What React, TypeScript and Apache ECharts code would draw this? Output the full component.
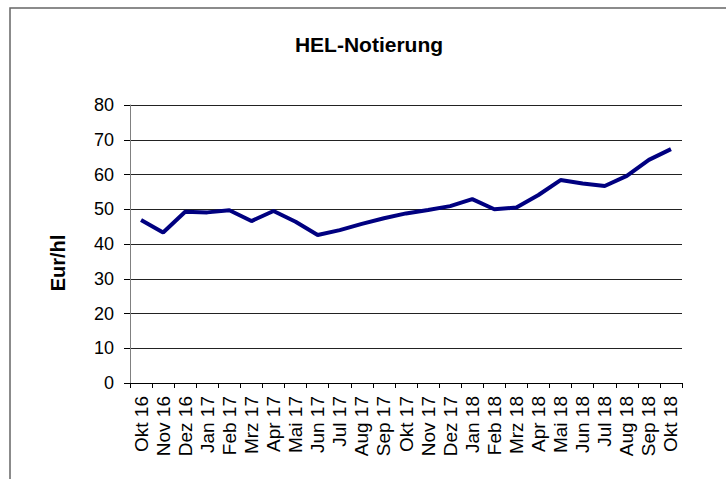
import React, { useEffect, useRef } from "react";
import * as echarts from "echarts";

const categories = [
  "Okt 16", "Nov 16", "Dez 16", "Jan 17", "Feb 17", "Mrz 17", "Apr 17", "Mai 17",
  "Jun 17", "Jul 17", "Aug 17", "Sep 17", "Okt 17", "Nov 17", "Dez 17", "Jan 18",
  "Feb 18", "Mrz 18", "Apr 18", "Mai 18", "Jun 18", "Jul 18", "Aug 18", "Sep 18", "Okt 18",
];
const values = [
  46.9, 43.3, 49.3, 49.1, 49.7, 46.6, 49.5, 46.4, 42.6, 44.0, 45.8, 47.4, 48.8,
  49.8, 50.9, 52.9, 50.0, 50.5, 54.1, 58.4, 57.4, 56.7, 59.6, 64.2, 67.3,
];
const yMin = 0;
const yMax = 80;
const yStep = 10;
const titleText = "HEL-Notierung";
const yAxisName = "Eur/hl";

const FONT = "'Liberation Sans', Arial, sans-serif";

export default function App() {
  const ref = useRef<HTMLDivElement>(null);
  useEffect(() => {
    if (!ref.current) return;
    const chart = echarts.init(ref.current, undefined, { renderer: "svg" });
    chart.setOption({
      animation: false,
      backgroundColor: "#ffffff",
      graphic: [
        {
          type: "polyline",
          shape: { points: [[10, 479], [10, 8], [726, 8]] },
          style: { stroke: "#666", lineWidth: 1.5, fill: null },
          z: 10,
        },
        {
          type: "text",
          x: 369,
          y: 44,
          style: {
            text: titleText,
            font: `bold 21px ${FONT}`,
            fill: "#000",
            align: "center",
            verticalAlign: "middle",
          },
        },
        {
          type: "text",
          x: 58,
          y: 263,
          rotation: Math.PI / 2,
          style: {
            text: yAxisName,
            font: `bold 20px ${FONT}`,
            fill: "#000",
            align: "center",
            verticalAlign: "middle",
          },
        },
      ],
      grid: { left: 130, right: 44, top: 105, bottom: 96, containLabel: false },
      xAxis: {
        type: "category",
        data: categories,
        boundaryGap: true,
        axisLine: { show: true, lineStyle: { color: "#000", width: 1 } },
        axisTick: { show: true, length: 5, alignWithLabel: false, lineStyle: { color: "#000" } },
        axisLabel: {
          interval: 0,
          rotate: 90,
          margin: 13,
          fontSize: 19,
          fontFamily: FONT,
          color: "#000",
        },
        splitLine: { show: false },
      },
      yAxis: {
        type: "value",
        min: yMin,
        max: yMax,
        interval: yStep,
        axisLine: { show: true, lineStyle: { color: "#808080", width: 1 } },
        axisTick: { show: true, length: 6, lineStyle: { color: "#000" } },
        axisLabel: { margin: 16, fontSize: 18, fontFamily: FONT, color: "#000" },
        splitLine: { show: true, lineStyle: { color: "#222", width: 1 } },
      },
      series: [
        {
          type: "line",
          data: values,
          symbol: "none",
          lineStyle: { color: "#000080", width: 4 },
          itemStyle: { color: "#000080" },
        },
      ],
    });
    return () => chart.dispose();
  }, []);
  return (
    <div
      ref={ref}
      style={{ position: "absolute", left: 0, top: 0, width: 726, height: 479 }}
    />
  );
}
